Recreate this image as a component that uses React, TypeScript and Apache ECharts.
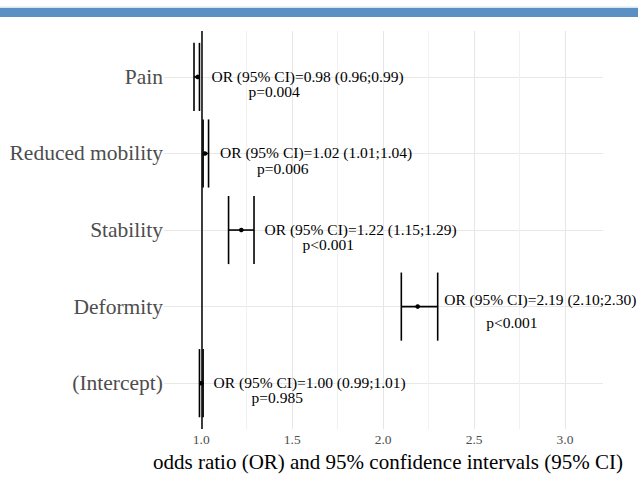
import React, { useEffect, useRef } from "react";
import * as echarts from "echarts";

const categories = ["Pain", "Reduced mobility", "Stability", "Deformity", "(Intercept)"];
const orValues = [0.98, 1.02, 1.22, 2.19, 1.0];
const ciLow = [0.96, 1.01, 1.15, 2.1, 0.99];
const ciHigh = [0.99, 1.04, 1.29, 2.3, 1.01];
const pLabels = ["p=0.004", "p=0.006", "p<0.001", "p<0.001", "p=0.985"];
const xTickValues = [1.0, 1.5, 2.0, 2.5, 3.0];
const xGridValues = [1.0, 1.25, 1.5, 1.75, 2.0, 2.25, 2.5, 2.75, 3.0];

// label layout (pixel offsets), kept separate from data
const labelOffsetX = [12, 11.5, 10.5, 6.5, 10.5];
const pOffsetX = [37, 37, 38, 42, 38];
const line1Dy = [-0.5, -0.5, -0.5, -7.5, -0.5];
const line2Dy = [14.5, 15, 14.5, 16, 14.5];

const SERIF = "'Liberation Serif', 'Times New Roman', Times, serif";

export default function App() {
  const ref = useRef<HTMLDivElement>(null);
  useEffect(() => {
    if (!ref.current) return;
    const chart = echarts.init(ref.current, undefined, { renderer: "svg" });
    const data = categories.map((c, i) => [i + 1, orValues[i], ciLow[i], ciHigh[i]]);
    const orText = (i: number) =>
      `OR (95% CI)=${orValues[i].toFixed(2)} (${ciLow[i].toFixed(2)};${ciHigh[i].toFixed(2)})`;
    chart.setOption({
      animation: false,
      backgroundColor: "#ffffff",
      graphic: [
        { type: "rect", left: 0, top: 6.5, shape: { width: 638, height: 1.5 }, style: { fill: "#d9e6f2" } },
        { type: "rect", left: 0, top: 8, shape: { width: 638, height: 9 }, style: { fill: "#5b90c4" } },
      ],
      grid: { left: 164, right: 35, top: 31, bottom: 47 },
      xAxis: {
        type: "value",
        min: 0.795,
        max: 3.209,
        axisLine: { show: false },
        axisTick: { show: false, customValues: xGridValues },
        axisLabel: {
          customValues: xTickValues,
          formatter: (v: number) => v.toFixed(1),
          fontFamily: SERIF,
          fontSize: 13.5,
          color: "#4d4d4d",
          margin: 3,
        },
        splitLine: {
          show: true,
          lineStyle: { color: ["#e6e6e6", "#f1f1f1"], width: 1 },
        },
        name: "odds ratio (OR) and 95% confidence intervals (95% CI)",
        nameLocation: "middle",
        nameGap: 14,
        nameTextStyle: { fontFamily: SERIF, fontSize: 21, color: "#000000", padding: [0, 0, 0, 9] },
      },
      yAxis: {
        type: "value",
        inverse: true,
        min: 0.4,
        max: 5.6,
        axisLine: { show: false },
        axisTick: { show: false, customValues: [1, 2, 3, 4, 5] },
        axisLabel: {
          customValues: [1, 2, 3, 4, 5],
          formatter: (v: number) => categories[Math.round(v) - 1] ?? "",
          fontFamily: SERIF,
          fontSize: 21.5,
          color: "#4d4d4d",
          margin: 1,
        },
        splitLine: { show: true, lineStyle: { color: "#e8e8e8", width: 1 } },
      },
      series: [
        {
          type: "custom",
          data,
          encode: { x: [1, 2, 3], y: 0 },
          clip: false,
          renderItem: (params: any, api: any) => {
            const i = params.dataIndex;
            const yv = api.value(0);
            const pLo = api.coord([api.value(2), yv]);
            const pHi = api.coord([api.value(3), yv]);
            const pOr = api.coord([api.value(1), yv]);
            const half = api.size([0, 1])[1] * 0.445;
            const ls = { stroke: "#000000", lineWidth: 1.6 };
            const tx = pHi[0] + labelOffsetX[i];
            return {
              type: "group",
              children: [
                { type: "line", shape: { x1: pLo[0], y1: pLo[1], x2: pHi[0], y2: pHi[1] }, style: ls },
                { type: "line", shape: { x1: pLo[0], y1: pLo[1] - half, x2: pLo[0], y2: pLo[1] + half }, style: ls },
                { type: "line", shape: { x1: pHi[0], y1: pHi[1] - half, x2: pHi[0], y2: pHi[1] + half }, style: ls },
                { type: "circle", shape: { cx: pOr[0], cy: pOr[1], r: 2.3 }, style: { fill: "#000000" } },
                {
                  type: "text",
                  x: tx,
                  y: pOr[1] + line1Dy[i],
                  style: {
                    text: orText(i),
                    fontFamily: SERIF,
                    fontSize: 15.5,
                    fill: "#000000",
                    align: "left",
                    verticalAlign: "middle",
                  },
                },
                {
                  type: "text",
                  x: tx + pOffsetX[i],
                  y: pOr[1] + line2Dy[i],
                  style: {
                    text: pLabels[i],
                    fontFamily: SERIF,
                    fontSize: 15.5,
                    fill: "#000000",
                    align: "left",
                    verticalAlign: "middle",
                  },
                },
              ],
            };
          },
          markLine: {
            silent: true,
            symbol: "none",
            label: { show: false },
            lineStyle: { color: "#000000", width: 1.5, type: "solid" },
            data: [{ xAxis: 1 }],
          },
          z: 3,
        },
      ],
    });
    return () => chart.dispose();
  }, []);
  return (
    <div
      ref={ref}
      style={{ position: "fixed", left: 0, top: 0, width: 638, height: 477 }}
    />
  );
}
